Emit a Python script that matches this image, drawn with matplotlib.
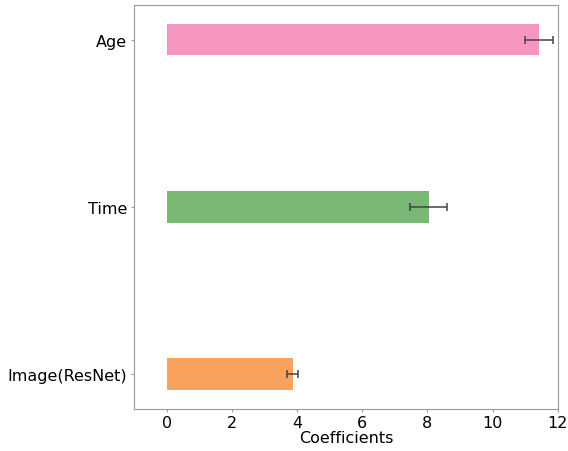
import matplotlib
matplotlib.use("Agg")
import matplotlib.pyplot as plt
import numpy as np

features = ["Image(ResNet)", "Time", "Age"]
coefs = [3.87, 8.04, 11.42]
errors = [0.17, 0.56, 0.42]
colors = ["#f9a25e", "#79b775", "#f596c0"]

fig, ax = plt.subplots(figsize=(5.68, 4.52), dpi=100)
y = np.arange(len(features))
ax.barh(y, coefs, height=0.19, color=colors, xerr=errors,
        error_kw=dict(ecolor="#444444", capsize=3, elinewidth=1.1, capthick=1.1))

ax.set_yticks(y)
ax.set_yticklabels(features, fontsize=11.5)
ax.set_xlim(-1, 12)
ax.set_xticks(range(0, 13, 2))
ax.tick_params(axis="x", labelsize=11.5)
ax.set_xlabel("Coefficients", fontsize=11.5, labelpad=0)
for s in ax.spines.values():
    s.set_color("#999999")
ax.tick_params(color="#999999", length=2.5, pad=2.5)

plt.subplots_adjust(left=0.236, right=0.982, top=0.986, bottom=0.094)
plt.savefig("out.png")
